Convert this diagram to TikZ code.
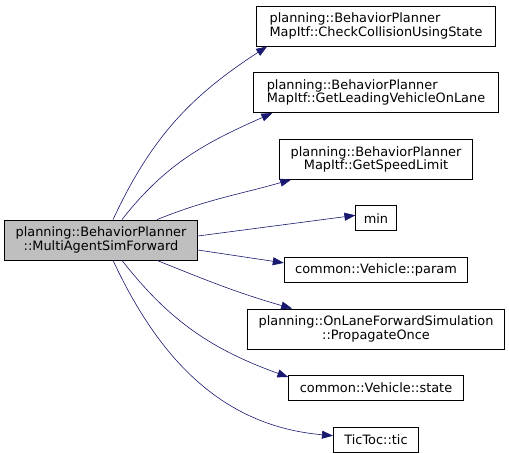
\documentclass[tikz,border=0pt]{standalone}
\usepackage{fontspec}
\setmainfont{DejaVu Sans}
\usetikzlibrary{arrows.meta, positioning}
\definecolor{edgeblue}{RGB}{25,25,112}
\tikzstyle{func} = [rectangle, draw, thick, align=center, inner xsep=11pt, minimum height=25pt, font=\fontsize{12.9}{13.5}\selectfont]
\tikzstyle{twoline} = [func, minimum height=40pt]
\tikzstyle{current} = [twoline, fill=black!25]
\tikzstyle{call} = [edgeblue, semithick, -{Triangle[length=11pt,width=8pt]}]

\begin{document}
\begin{tikzpicture}[x=1pt, y=1pt, node distance=25.8pt]
        \useasboundingbox (0,0) rectangle (509,453);
        \node[current] (simfwd) at (101,213) {planning::BehaviorPlanner\\::MultiAgentSimForward};
        \node[twoline, align=left, inner xsep=13pt] (collision) at (376,427) {planning::BehaviorPlanner\\MapItf::CheckCollisionUsingState};
        \node[twoline, align=left, inner xsep=13pt, below=of collision] (leading) {planning::BehaviorPlanner\\MapItf::GetLeadingVehicleOnLane};
        \node[twoline, below=of leading] (speedlimit) {planning::BehaviorPlanner\\MapItf::GetSpeedLimit};
        \node[func, inner xsep=8pt, below=of speedlimit] (min) {min};
        \node[func, below=of min] (param) {common::Vehicle::param};
        \node[twoline, below=of param] (propagate) {planning::OnLaneForwardSimulation\\::PropagateOnce};
        \node[func, below=of propagate] (state) {common::Vehicle::state};
        \node[func, below=of state] (tic) {TicToc::tic};
        \draw[call] ([xshift=12pt]simfwd.north) to[out=65, in=213] ([xshift=11pt]collision.south west);
        \draw[call] ([xshift=21pt]simfwd.north) to[out=52, in=204] ([xshift=19pt]leading.south west);
        \draw[call] ([xshift=56pt]simfwd.north) to[out=22, in=196] ([xshift=12pt]speedlimit.south west);
        \draw[call] ([yshift=4pt]simfwd.east) -- ([yshift=3pt]min.west);
        \draw[call] ([yshift=-10pt]simfwd.east) -- ([yshift=7pt]param.west);
        \draw[call] ([xshift=56pt]simfwd.south) to[out=-22, in=164] ([xshift=45pt]propagate.north west);
        \draw[call] ([xshift=21pt]simfwd.south) to[out=-52, in=160] ([yshift=-2pt]state.north west);
        \draw[call] ([xshift=12pt]simfwd.south) to[out=-65, in=175] ([yshift=4pt]tic.west);
    \end{tikzpicture}
\end{document}
